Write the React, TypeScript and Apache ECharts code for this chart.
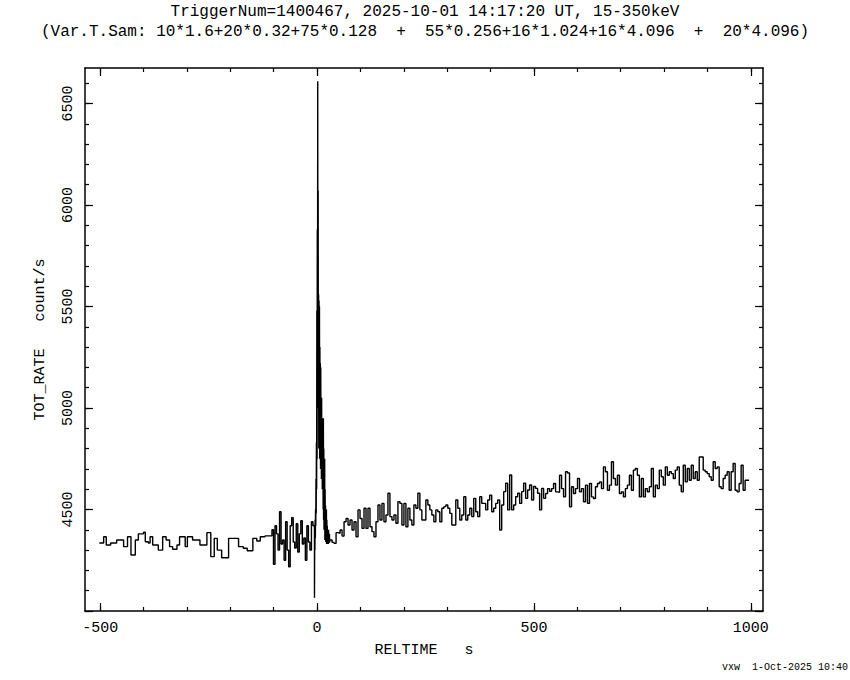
import React, { useEffect, useRef } from "react";
import * as echarts from "echarts";

// ---- Data ----
const TITLE_1 = "TriggerNum=1400467, 2025-10-01 14:17:20 UT, 15-350keV";
const TITLE_2 = "(Var.T.Sam: 10*1.6+20*0.32+75*0.128  +  55*0.256+16*1.024+16*4.096  +  20*4.096)";
const X_NAME = "RELTIME   s";
const Y_NAME = "TOT_RATE   count/s";
const FOOTER = "vxw  1-Oct-2025 10:40";

const X_MIN = -535;
const X_MAX = 1028;
const Y_MIN = 4000;
const Y_MAX = 6675;

const X_MAJOR = [-500, 0, 500, 1000];
const X_MINOR = [-500, -400, -300, -200, -100, 0, 100, 200, 300, 400, 500, 600, 700, 800, 900, 1000];
const Y_MAJOR = [4000, 4500, 5000, 5500, 6000, 6500];
const Y_LABELS = [4500, 5000, 5500, 6000, 6500];
const Y_MINOR = [4000, 4100, 4200, 4300, 4400, 4500, 4600, 4700, 4800, 4900, 5000, 5100, 5200, 5300, 5400, 5500,
  5600, 5700, 5800, 5900, 6000, 6100, 6200, 6300, 6400, 6500, 6600];

// pre-trigger coarse bins: bin start times and rates
const PRE_T = [-502, -492, -486, -476, -462, -446, -437, -429, -419, -412, -400, -396, -389, -385, -379, -366, -356,
  -348, -340, -333, -323, -317, -304, -299, -287, -270, -254, -245, -237, -230, -220, -204, -181, -170, -161, -148,
  -139, -131, -120];
const PRE_V = [4335, 4366, 4325, 4335, 4350, 4317, 4366, 4276, 4350, 4380, 4388, 4341, 4335, 4366, 4325, 4300, 4366,
  4350, 4317, 4304, 4325, 4366, 4317, 4366, 4350, 4325, 4386, 4268, 4358, 4300, 4262, 4358, 4317, 4309, 4297, 4358,
  4345, 4366, 4370];

// pre-trigger fine bins
const NOISE_START = -104;
const NOISE_STEP = 3.5;
const NOISE_V = [4400, 4230, 4420, 4380, 4300, 4489, 4330, 4350, 4250, 4440, 4300, 4218, 4420, 4460, 4340, 4310,
  4430, 4290, 4380, 4445, 4330, 4360, 4250, 4420, 4340, 4300, 4440, 4420];

// burst bins
const BURST_START = -6;
const BURST_STEP = 0.5;
const BURST_V = [4065, 4380, 4300, 4450, 4360, 4500, 4420, 4650, 4480, 4830,
  4600, 5480, 4750, 5880, 5100, 6610, 5300, 6070, 5000, 5560,
  4800, 5530, 4900, 5500, 4750, 5300, 4850, 5220, 4700, 5200,
  4800, 5000, 4650, 5050, 4700, 4950, 4600, 4900, 4650, 4830,
  4500, 4950, 4450, 4800, 4400, 4700, 4500, 4750, 4350, 4600,
  4400, 4520, 4340, 4480, 4350, 4500, 4330, 4450, 4340, 4420,
  4330, 4400, 4335, 4380, 4330, 4400, 4340, 4360, 4335, 4380,
  4340, 4350];

// post-burst bins
const POST_START = 30;
const POST_STEP = 4.6;
const POST_V = [4350, 4338,
  4333, 4386, 4383, 4399, 4369, 4440, 4456, 4424, 4448, 4399,
  4440, 4366, 4498, 4456, 4407, 4506, 4407, 4506, 4415, 4391,
  4366, 4440, 4522, 4448, 4530, 4440, 4473, 4580, 4465, 4448,
  4473, 4432, 4539, 4530, 4424, 4530, 4415, 4506, 4448, 4424,
  4522, 4506, 4580, 4498, 4448, 4448, 4547, 4522, 4498, 4473,
  4440, 4498, 4489, 4440, 4506, 4514, 4522, 4506, 4481, 4424,
  4424, 4547, 4506, 4448, 4473, 4563, 4448, 4473, 4506, 4465,
  4555, 4489, 4465, 4563, 4530, 4530, 4498, 4547, 4571, 4489,
  4506, 4530, 4547, 4399, 4522, 4588, 4629, 4498, 4670, 4498,
  4522, 4563, 4580, 4530, 4588, 4629, 4555, 4596, 4621, 4547,
  4613, 4604, 4580, 4498, 4604, 4555,
  4579, 4603, 4590, 4603, 4628, 4587, 4584, 4669, 4603, 4562,
  4686, 4680, 4513, 4612, 4579, 4603, 4653, 4587, 4603, 4538,
  4620, 4530, 4628, 4562, 4554, 4612, 4628, 4636, 4603, 4710,
  4686, 4595, 4620, 4735, 4653, 4620, 4669, 4579, 4587, 4562,
  4603, 4620, 4669, 4595, 4694, 4702, 4669, 4562, 4653, 4562,
  4603, 4587, 4612, 4702, 4562, 4620, 4603, 4694, 4661, 4620,
  4710, 4669, 4686, 4677, 4653, 4694, 4710, 4620, 4587, 4718,
  4636, 4702, 4644, 4718, 4653, 4686, 4644, 4759, 4759, 4694,
  4686, 4677, 4661, 4644, 4735, 4702, 4710, 4612, 4603, 4653,
  4669, 4686, 4595, 4686, 4727, 4595, 4587, 4628, 4718, 4595,
  4644, 4644];

// ---- Build series data ----
function buildData(): number[][] {
  const pts: number[][] = [];
  PRE_T.forEach((t, i) => pts.push([t, PRE_V[i]]));
  NOISE_V.forEach((v, i) => pts.push([NOISE_START + i * NOISE_STEP, v]));
  BURST_V.forEach((v, i) => pts.push([BURST_START + i * BURST_STEP, v]));
  POST_V.forEach((v, i) => pts.push([POST_START + i * POST_STEP, v]));
  pts.push([POST_START + POST_V.length * POST_STEP, POST_V[POST_V.length - 1]]);
  return pts;
}

const FONT = "'Liberation Mono', 'DejaVu Sans Mono', monospace";
const BLACK = "#000";

function xAxisDef(position: "top" | "bottom", ticks: number[], len: number, line: boolean, labels: boolean) {
  return {
    type: "value",
    position,
    min: X_MIN,
    max: X_MAX,
    splitLine: { show: false },
    axisLine: { show: line, onZero: false, lineStyle: { color: BLACK, width: 1.5 } },
    axisTick: { show: true, inside: true, length: len, customValues: ticks, lineStyle: { color: BLACK, width: 1.2 } },
    axisLabel: labels
      ? { show: true, customValues: X_MAJOR, color: BLACK, fontFamily: FONT, fontSize: 15, margin: 10,
          formatter: (v: number) => String(v) }
      : { show: false },
    ...(labels
      ? { name: X_NAME, nameLocation: "middle", nameGap: 32,
          nameTextStyle: { color: BLACK, fontFamily: FONT, fontSize: 15 } }
      : {}),
  };
}

function yAxisDef(position: "left" | "right", ticks: number[], len: number, line: boolean, labels: boolean) {
  return {
    type: "value",
    position,
    min: Y_MIN,
    max: Y_MAX,
    splitLine: { show: false },
    axisLine: { show: line, onZero: false, lineStyle: { color: BLACK, width: 1.5 } },
    axisTick: { show: true, inside: true, length: len, customValues: ticks, lineStyle: { color: BLACK, width: 1.2 } },
    axisLabel: labels
      ? { show: true, customValues: Y_LABELS, rotate: 90, color: BLACK, fontFamily: FONT, fontSize: 15, margin: 9,
          formatter: (v: number) => String(v) }
      : { show: false },
    ...(labels
      ? { name: Y_NAME, nameLocation: "middle", nameGap: 37, nameRotate: 90,
          nameTextStyle: { color: BLACK, fontFamily: FONT, fontSize: 15 } }
      : {}),
  };
}

export default function App() {
  const ref = useRef<HTMLDivElement>(null);
  useEffect(() => {
    if (!ref.current) return;
    const chart = echarts.init(ref.current, null, { renderer: "svg" });
    const option: any = {
      animation: false,
      backgroundColor: "#fff",
      grid: { left: 85, right: 87, top: 68, bottom: 69, containLabel: false },
      xAxis: [
        xAxisDef("bottom", X_MAJOR, 8, true, true),
        xAxisDef("bottom", X_MINOR, 4, false, false),
        xAxisDef("top", X_MAJOR, 8, true, false),
        xAxisDef("top", X_MINOR, 4, false, false),
      ],
      yAxis: [
        yAxisDef("left", Y_MAJOR, 8, true, true),
        yAxisDef("left", Y_MINOR, 4, false, false),
        yAxisDef("right", Y_MAJOR, 8, true, false),
        yAxisDef("right", Y_MINOR, 4, false, false),
      ],
      series: [
        {
          type: "line",
          xAxisIndex: 0,
          yAxisIndex: 0,
          step: "end",
          showSymbol: false,
          symbol: "none",
          clip: true,
          lineStyle: { color: BLACK, width: 1.4 },
          data: buildData(),
        },
      ],
      graphic: [
        { type: "text", left: "center", top: 4,
          style: { text: TITLE_1, fill: BLACK, font: `16px ${FONT}` } },
        { type: "text", left: "center", top: 24,
          style: { text: TITLE_2, fill: BLACK, font: `16px ${FONT}` } },
        { type: "text", right: 2, top: 662,
          style: { text: FOOTER, fill: BLACK, font: `10px ${FONT}` } },
      ],
    };
    chart.setOption(option);
    return () => chart.dispose();
  }, []);
  return (
    <div
      ref={ref}
      style={{ position: "fixed", left: 0, top: 0, width: 850, height: 680, background: "#fff" }}
    />
  );
}
